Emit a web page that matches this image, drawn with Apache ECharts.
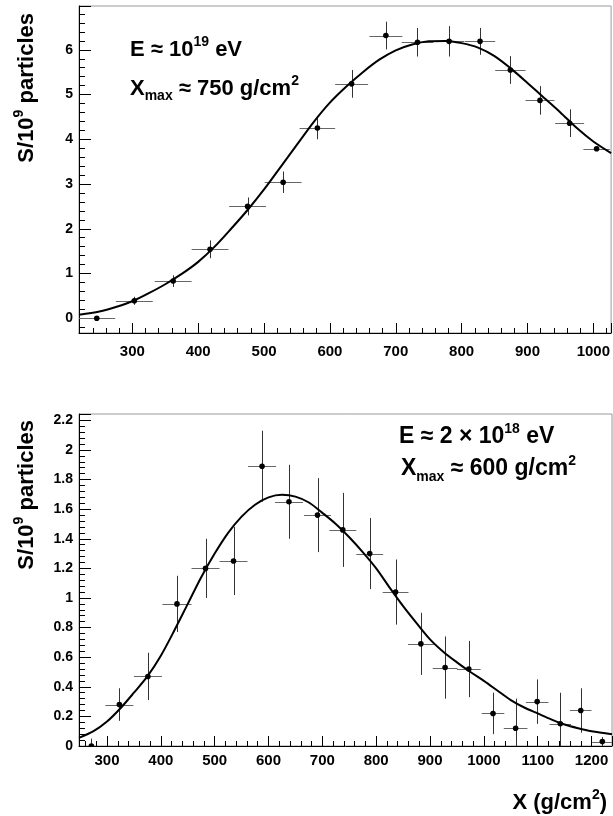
<!DOCTYPE html>
<html>
<head>
<meta charset="utf-8">
<script src="https://cdn.jsdelivr.net/npm/echarts@6/dist/echarts.min.js"></script>
<style>
html,body{margin:0;padding:0;background:#fff;}
#chart{width:613px;height:816px;}
</style>
</head>
<body>
<div id="chart"></div>
<script>
// ---- Top panel: E ~ 1e19 eV ----
const topX    = [246, 303, 362, 418, 475, 529, 581, 633, 685, 733, 781, 828, 874, 919, 964, 1005];
const topY    = [0.00, 0.39, 0.83, 1.54, 2.50, 3.04, 4.25, 5.24, 6.32, 6.17, 6.19, 6.19, 5.55, 4.87, 4.36, 3.79];
const topXerr = [28, 28, 28, 28, 28, 28, 27, 25, 25, 24, 23, 23, 23, 22, 22, 20];
const topYerr = [0.03, 0.09, 0.13, 0.20, 0.20, 0.24, 0.25, 0.31, 0.31, 0.32, 0.34, 0.30, 0.31, 0.32, 0.31, 0.05];
const topFitX = [219, 250, 275, 300, 325, 350, 375, 400, 425, 450, 475, 500, 525, 550, 575, 600, 625, 650, 675, 700, 725, 750, 775, 800, 825, 850, 875, 900, 925, 950, 975, 1000, 1027];
const topFitY = [0.08, 0.15, 0.25, 0.38, 0.56, 0.76, 0.99, 1.26, 1.60, 2.00, 2.42, 2.88, 3.38, 3.88, 4.38, 4.82, 5.18, 5.50, 5.78, 5.99, 6.12, 6.19, 6.20, 6.15, 6.05, 5.86, 5.58, 5.26, 4.93, 4.60, 4.25, 3.95, 3.69];

// ---- Bottom panel: E ~ 2e18 eV ----
const botX    = [271, 323, 376, 430, 483, 535, 588, 638, 691, 738, 788, 836, 883, 928, 972, 1017, 1059, 1099, 1142, 1180, 1220];
const botY    = [0.00, 0.28, 0.47, 0.96, 1.20, 1.25, 1.89, 1.65, 1.56, 1.46, 1.30, 1.04, 0.69, 0.53, 0.52, 0.22, 0.12, 0.30, 0.15, 0.24, 0.03];
const botXerr = [26, 26, 26, 27, 26, 26, 26, 26, 25, 25, 25, 24, 24, 23, 22, 21, 22, 21, 20, 20, 19];
const botYerr = [0.05, 0.11, 0.16, 0.19, 0.20, 0.23, 0.24, 0.25, 0.25, 0.25, 0.24, 0.22, 0.21, 0.21, 0.19, 0.14, 0.20, 0.15, 0.21, 0.15, 0.03];
const botFitX = [248, 275, 300, 325, 350, 375, 400, 425, 450, 475, 500, 525, 550, 575, 600, 625, 650, 675, 700, 725, 750, 775, 800, 825, 850, 875, 900, 925, 950, 975, 1000, 1025, 1050, 1075, 1100, 1125, 1150, 1175, 1200, 1238];
const botFitY = [0.055, 0.10, 0.165, 0.255, 0.36, 0.47, 0.61, 0.78, 0.96, 1.14, 1.30, 1.44, 1.55, 1.63, 1.68, 1.697, 1.685, 1.645, 1.575, 1.50, 1.41, 1.31, 1.20, 1.07, 0.945, 0.83, 0.72, 0.635, 0.565, 0.50, 0.44, 0.375, 0.31, 0.26, 0.22, 0.18, 0.145, 0.12, 0.10, 0.08];

// axis ranges
const topXRange = [219, 1027];
const topYRange = [-0.33, 6.98];
const botXRange = [248, 1238];
const botYRange = [0, 2.243];

const FONT = '"Liberation Sans", Arial, Helvetica, sans-serif';

function rows(xs, ys, xe, ye) { return xs.map((x, i) => [x, ys[i], xe[i], ye[i]]); }
function pairs(xs, ys) { return xs.map((x, i) => [x, ys[i]]); }
function fmt(v) { return String(+(+v).toFixed(2)); }

function renderErr(params, api) {
  const x = api.value(0), y = api.value(1), xe = api.value(2), ye = api.value(3);
  const c = api.coord([x, y]);
  const l = api.coord([x - xe, y]);
  const r = api.coord([x + xe, y]);
  const t = api.coord([x, y + ye]);
  const b = api.coord([x, y - ye]);
  const cy = Math.round(c[1]) + 0.5, cx = Math.round(c[0]) + 0.5;
  return {
    type: 'group',
    children: [
      { type: 'line', shape: { x1: l[0], y1: cy, x2: r[0], y2: cy }, style: { stroke: '#666', lineWidth: 1 } },
      { type: 'line', shape: { x1: cx, y1: t[1], x2: cx, y2: b[1] }, style: { stroke: '#333', lineWidth: 1 } },
      { type: 'circle', shape: { cx: c[0], cy: c[1], r: 2.8 }, style: { fill: '#000' } }
    ]
  };
}

function xAxisCfg(idx, range, split, margin) {
  return {
    type: 'value', gridIndex: idx, min: range[0], max: range[1], splitNumber: split,
    axisLine: { show: true, onZero: false, lineStyle: { color: '#000', width: 1 } },
    axisTick: { show: true, inside: true, length: 10, lineStyle: { color: '#000' } },
    minorTick: { show: true, splitNumber: 5, length: 5, lineStyle: { color: '#000' } },
    splitLine: { show: false },
    axisLabel: { showMinLabel: false, showMaxLabel: false, margin: margin, color: '#000', formatter: fmt,
      fontFamily: FONT, fontWeight: 'bold', fontSize: 15 }
  };
}
function yAxisCfg(idx, range, split, showMin) {
  return {
    type: 'value', gridIndex: idx, min: range[0], max: range[1], splitNumber: split,
    axisLine: { show: true, onZero: false, lineStyle: { color: '#000', width: 1 } },
    axisTick: { show: true, inside: true, length: 12, lineStyle: { color: '#000' } },
    minorTick: { show: true, splitNumber: 5, length: 6, lineStyle: { color: '#000' } },
    splitLine: { show: false },
    axisLabel: { showMinLabel: showMin, showMaxLabel: false, margin: 6, color: '#000', formatter: fmt,
      fontFamily: FONT, fontWeight: 'bold', fontSize: 14 }
  };
}

function richFor(size) {
  const s = Math.round(size * 0.62);
  const lh = Math.round(size * 1.3);
  return {
    a:   { fontFamily: FONT, fontWeight: 'bold', fontSize: size, lineHeight: lh, color: '#000' },
    sup: { fontFamily: FONT, fontWeight: 'bold', fontSize: s, lineHeight: lh, verticalAlign: 'top', padding: [0, 0, Math.round(size * 0.55), 0], color: '#000' },
    sub: { fontFamily: FONT, fontWeight: 'bold', fontSize: s, lineHeight: lh, verticalAlign: 'bottom', padding: [Math.round(size * 0.35), 0, 0, 0], color: '#000' }
  };
}
function rtext(x, y, text, align, size, rot) {
  return {
    type: 'text', x: x, y: y, rotation: rot || 0,
    style: { text: text, rich: richFor(size), align: align || 'left', verticalAlign: 'middle', fill: '#000',
      font: 'bold ' + size + 'px ' + FONT }
  };
}

const chart = echarts.init(document.getElementById('chart'), null, { renderer: 'canvas' });
chart.setOption({
  animation: false,
  backgroundColor: '#fff',
  grid: [
    { left: 79, top: 6, right: 1, height: 327, show: true, borderColor: '#999', borderWidth: 1, backgroundColor: 'transparent' },
    { left: 79, top: 414, right: 1, height: 332, show: true, borderColor: '#999', borderWidth: 1, backgroundColor: 'transparent' }
  ],
  xAxis: [ xAxisCfg(0, topXRange, 8, 11), xAxisCfg(1, botXRange, 10, 7) ],
  yAxis: [ yAxisCfg(0, topYRange, 7, false), yAxisCfg(1, botYRange, 11, true) ],
  series: [
    { type: 'custom', xAxisIndex: 0, yAxisIndex: 0, clip: true, renderItem: renderErr,
      data: rows(topX, topY, topXerr, topYerr), encode: { x: 0, y: 1 }, z: 2 },
    { type: 'line', xAxisIndex: 0, yAxisIndex: 0, smooth: 0.3, symbol: 'none', clip: true,
      data: pairs(topFitX, topFitY), lineStyle: { color: '#000', width: 2 }, z: 3 },
    { type: 'custom', xAxisIndex: 1, yAxisIndex: 1, clip: true, renderItem: renderErr,
      data: rows(botX, botY, botXerr, botYerr), encode: { x: 0, y: 1 }, z: 2 },
    { type: 'line', xAxisIndex: 1, yAxisIndex: 1, smooth: 0.3, symbol: 'none', clip: true,
      data: pairs(botFitX, botFitY), lineStyle: { color: '#000', width: 2 }, z: 3 }
  ],
  graphic: [
    rtext(130, 50, '{a|E ≈ 10}{sup|19}{a| eV}', 'left', 22),
    rtext(130, 89, '{a|X}{sub|max}{a| ≈ 750 g/cm}{sup|2}', 'left', 22),
    rtext(399, 437, '{a|E ≈ 2 × 10}{sup|18}{a| eV}', 'left', 23),
    rtext(401, 469, '{a|X}{sub|max}{a| ≈ 600 g/cm}{sup|2}', 'left', 23),
    rtext(607, 803, '{a|X (g/cm}{sup|2}{a|)}', 'right', 22),
    rtext(27, 13, '{a|S/10}{sup|9}{a| particles}', 'right', 22, Math.PI / 2),
    rtext(27, 420, '{a|S/10}{sup|9}{a| particles}', 'right', 22, Math.PI / 2)
  ]
});
</script>
</body>
</html>
